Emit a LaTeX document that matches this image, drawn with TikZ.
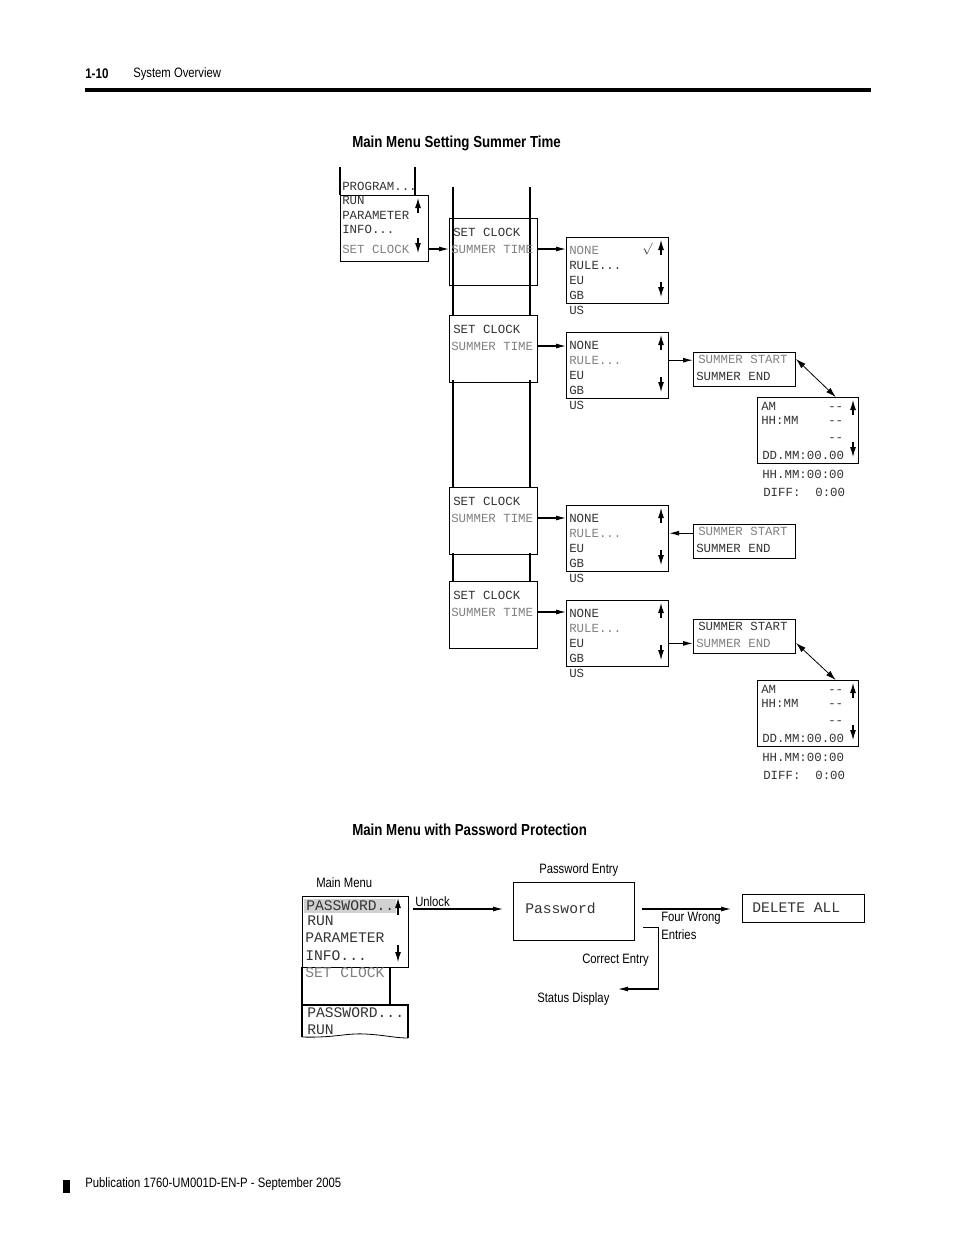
\documentclass[tikz,border=0pt]{standalone}
\usepackage{fontspec}
\setmainfont{Liberation Sans}[FakeStretch=0.83]
\setmonofont{Liberation Mono}
\usetikzlibrary{arrows.meta, positioning}
\newdimen\px \px=0.75pt
\definecolor{lcdblack}{gray}{0.2}
\definecolor{lcdgray}{gray}{0.5}
\definecolor{hlgray}{gray}{0.82}
\newcommand{\ruletxt}{RULE...}
\tikzset{
  lcdbox/.style = {draw, line width=0.8pt, inner sep=0pt},
  lcdtxt/.style = {anchor=west, inner sep=0pt, text height=6pt, text depth=0pt,
    font=\ttfamily\fontsize{9.3}{10}\selectfont, text=lcdblack},
  bigtxt/.style = {lcdtxt, text height=7.2pt, font=\ttfamily\fontsize{11}{12}\selectfont},
  sanstxt/.style = {anchor=west, inner sep=0pt, font=\fontsize{10.2}{12}\selectfont},
  headtxt/.style = {anchor=west, inner sep=0pt, font=\bfseries\fontsize{12}{14}\selectfont},
  arr/.style = {-{Latex[length=7.5pt,width=3.75pt]}, line width=0.8pt},
  dblarr/.style = {{Latex[length=7.5pt,width=4.5pt]}-{Latex[length=7.5pt,width=4.5pt]}, line width=0.6pt},
  scroll/.style = {-{Latex[length=7.5pt,width=4.5pt]}, line width=0.8pt},
  line/.style = {draw, line width=0.8pt}
}
\begin{document}
\begin{tikzpicture}[x=0.75pt, y=-0.75pt]
\useasboundingbox (0,0) rectangle (954,1235);

% page head
\node [headtxt, font=\bfseries\fontsize{10.5}{12}\selectfont] (pagenum) at (85,74) {1-10};
\node [sanstxt] (chapter) at (133,74) {System Overview};
\fill (85,87.5) rectangle (871,91.5);

% setting summer time
\node [headtxt] (title1) at (352,143) {Main Menu Setting Summer Time};

\path [line] (340,167) -- (340,195);
\path [line] (415,167) -- (415,195);
\node [lcdtxt] (prog) at (342,186) {PROGRAM...};
\node [lcdbox, minimum width=88\px, minimum height=66\px, anchor=north west] (menu1) at (340,195) {};
\node [lcdtxt] (run1) at (342,200) {RUN};
\node [lcdtxt] (par1) at (342,215) {PARAMETER};
\node [lcdtxt] (info1) at (342,229) {INFO...};
\node [lcdtxt, text=lcdgray] (setclk1) at (342,249) {SET CLOCK};
\draw [scroll] (418,213) -- (418,198);
\draw [scroll] (418,238) -- (418,253);

\path [line] (453,187) -- (453,315);
\path [line] (530,187) -- (530,315);
\path [line] (453,380) -- (453,487);
\path [line] (530,380) -- (530,487);
\path [line] (453,553) -- (453,581);
\path [line] (530,553) -- (530,581);

\foreach \n/\t in {1/218,2/315,3/487,4/581} {
  \node [lcdbox, minimum width=88\px, minimum height=67\px, anchor=north west] (clk\n) at (449,\t) {};
  \node [lcdtxt] (sc\n) at (453,\t+14) {SET CLOCK};
  \node [lcdtxt, text=lcdgray] (st\n) at (451,\t+31) {SUMMER TIME};
}
\draw [arr] (menu1.east |- setclk1) -- (clk1.west |- setclk1);

\foreach \n/\t/\g in {1/237/1,2/332/2,3/505/2,4/600/2} {
  \node [lcdbox, minimum width=102\px, minimum height=66\px, anchor=north west] (rule\n) at (566,\t) {};
  \foreach \w [count=\i] in {NONE,\ruletxt,EU,GB,US} {
    \ifnum\i=\g \def\c{lcdgray}\else \def\c{lcdblack}\fi
    \node [lcdtxt, text=\c] (rule\n-\i) at (569,\t+13+15.2*\i-15.2) {\w};
  }
  \draw [scroll] (661,\t+18) -- (661,\t+3);
  \draw [scroll] (661,\t+45) -- (661,\t+60);
  \draw [arr] (clk\n.east |- st\n) -- (rule\n.west |- st\n);
}
\node [lcdtxt] (tick) at (642,248) {$\surd$};

\foreach \n/\t/\g in {2/352/1,3/524/1,4/619/2} {
  \ifnum\g=1 \def\c{lcdgray}\else \def\c{lcdblack}\fi
  \node [lcdbox, minimum width=102\px, minimum height=34\px, anchor=north west] (sum\n) at (693,\t) {};
  \node [lcdtxt, text=\c] (ss\n) at (698,\t+7) {SUMMER START};
  \ifnum\g=2 \def\c{lcdgray}\else \def\c{lcdblack}\fi
  \node [lcdtxt, text=\c] (se\n) at (696,\t+24) {SUMMER END};
}
\draw [arr] (rule2.east |- rule2-2) -- (sum2.west |- rule2-2);
\draw [arr] (sum3.west |- rule3-2) -- (rule3.east |- rule3-2);
\draw [arr] (rule4.east |- rule4-3) -- (sum4.west |- rule4-3);

\foreach \n/\t in {1/397,2/680} {
  \node [lcdbox, minimum width=101\px, minimum height=66\px, anchor=north west] (time\n) at (757,\t) {};
  \node [lcdtxt] (am\n) at (761,\t+9) {AM};
  \node [lcdtxt] (hh\n) at (761,\t+23) {HH:MM};
  \node [lcdtxt] (da\n) at (828,\t+9) {--};
  \node [lcdtxt] (db\n) at (828,\t+23) {--};
  \node [lcdtxt] (dc\n) at (828,\t+40) {--};
  \node [lcdtxt] (dd\n) at (762,\t+58) {DD.MM:00.00};
  \node [lcdtxt] (hm\n) at (762,\t+77) {HH.MM:00:00};
  \node [lcdtxt] (df\n) at (763,\t+95) {DIFF:\ \ 0:00};
  \draw [scroll] (853,\t+18) -- (853,\t+3);
  \draw [scroll] (853,\t+45) -- (853,\t+60);
}
\draw [dblarr] (sum2.east |- ss2) -- (time1.north -| da1);
\draw [dblarr] (sum4.east |- se4) -- (time2.north -| da2);

% password protection
\node [headtxt] (title2) at (352,830) {Main Menu with Password Protection};
\node [sanstxt] (mmlabel) at (316,883) {Main Menu};

\path [line] (302,967) -- (302,1005);
\path [line] (390,967) -- (390,1005);
\fill [hlgray] (304,899) rectangle (396,913);
\node [lcdbox, minimum width=106\px, minimum height=71\px, anchor=north west] (menu2) at (302,896) {};
\node [bigtxt] (pw) at (306,906) {PASSWORD..};
\node [bigtxt] (run2) at (307,921) {RUN};
\node [bigtxt] (par2) at (305,938) {PARAMETER};
\node [bigtxt] (info2) at (305,956) {INFO...};
\node [bigtxt, text=lcdgray] (setclk2) at (305,973) {SET CLOCK};
\draw [scroll] (398,915) -- (398,898);
\draw [scroll] (398,945) -- (398,962);

\path [line] (302,1037) -- (302,1005) -- (408,1005) -- (408,1038);
\draw [line width=0.6pt] (302,1037) .. controls (335,1038) and (345,1033) .. (365,1034)
  .. controls (385,1035) and (395,1038) .. (408,1038);
\node [bigtxt] (pw3) at (307,1013) {PASSWORD...};
\node [bigtxt] (run3) at (307,1030) {RUN};

\node [lcdbox, minimum width=121\px, minimum height=58\px, anchor=north west] (pwbox) at (513,882) {};
\node [bigtxt] (pwtxt) at (525,909) {Password};
\node [sanstxt] (pwlabel) at (539,870) {Password Entry};
\draw [arr, shorten <=3pt, shorten >=7.5pt] (menu2.east |- pwtxt) -- (pwbox.west |- pwtxt);
\node [sanstxt] (unlock) at (415,902) {Unlock};

\node [lcdbox, minimum width=122\px, minimum height=28\px, anchor=north west] (delbox) at (742,894) {};
\node [bigtxt] (deltxt) at (752,908) {DELETE ALL};
\draw [arr, shorten <=5.25pt, shorten >=8.25pt] (pwbox.east |- pwtxt) -- (delbox.west |- pwtxt);
\node [sanstxt] (four) at (661,918) {Four Wrong};
\node [sanstxt] (entries) at (661,935) {Entries};

\coordinate (cestart) at ([xshift=6pt, yshift=10.5pt]pwbox.south east);
\coordinate (statend) at (618,989);
\draw [arr] (cestart) -- ++(15,0) |- (statend);
\node [sanstxt] (correct) at (582,960) {Correct Entry};
\node [sanstxt] (status) at (537,999) {Status Display};

% page foot
\fill (63,1180) rectangle (70,1193);
\node [sanstxt] (pub) at (85,1184) {Publication 1760-UM001D-EN-P - September 2005};
\end{tikzpicture}
\end{document}
